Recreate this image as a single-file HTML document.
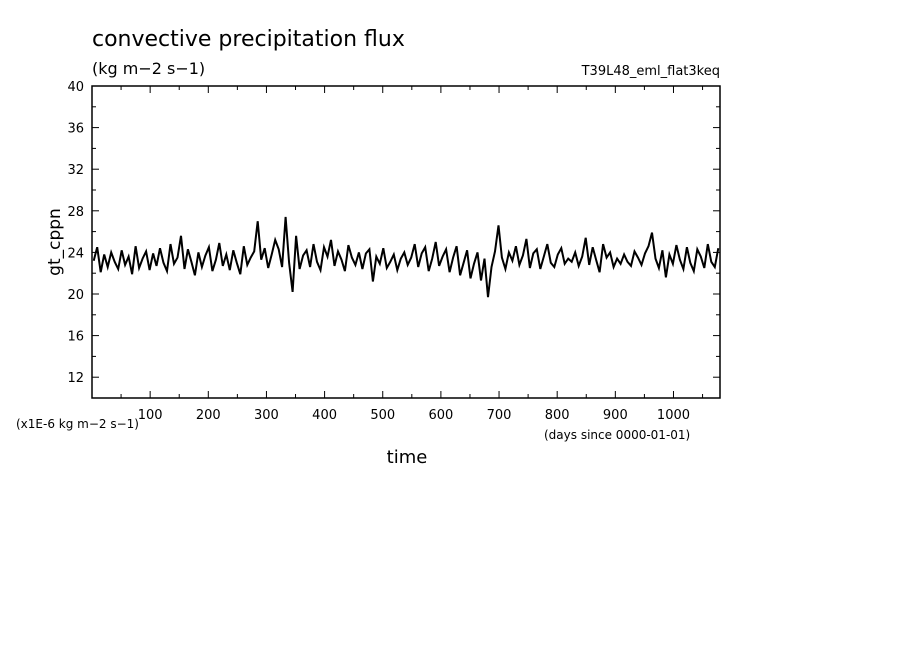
<!DOCTYPE html>
<html><head><meta charset="utf-8"><style>
body{margin:0;background:#fff}
svg text{font-family:"DejaVu Sans","Liberation Sans",sans-serif;fill:#000}
</style></head><body>
<svg id="c" width="904" height="654">
<text x="92" y="46" font-size="22">convective precipitation flux</text>
<text x="92" y="74" font-size="16">(kg m−2 s−1)</text>
<text x="720" y="75" font-size="13" text-anchor="end">T39L48_eml_flat3keq</text>
<text x="60" y="242" font-size="17" text-anchor="middle" transform="rotate(-90 60 242)">gt_cppn</text>
<text x="407" y="463" font-size="18" text-anchor="middle">time</text>
<text x="16" y="428" font-size="12">(x1E-6 kg m−2 s−1)</text>
<text x="544" y="439" font-size="12">(days since 0000-01-01)</text>
<g id="axes"></g>
<rect x="92" y="86" width="628" height="312" fill="none" stroke="#000" stroke-width="1.5"/>
</svg>
<script>
const yTicks=[12,16,20,24,28,32,36,40];
const xTicks=[100,200,300,400,500,600,700,800,900,1000];
const values=[23.2,24.5,22.1,23.8,22.6,24.0,23.1,22.4,24.2,22.8,
23.6,21.9,24.6,22.5,23.4,24.1,22.3,23.9,22.7,24.4,
23.0,22.2,24.8,22.9,23.5,25.6,22.4,24.3,23.1,21.8,
24.0,22.6,23.7,24.5,22.2,23.3,24.9,22.7,23.8,22.3,
24.2,23.0,21.9,24.6,22.8,23.5,24.1,27.0,23.3,24.4,
22.5,23.8,25.2,24.3,22.6,27.4,23.0,20.2,25.6,22.4,
23.7,24.2,22.6,24.8,23.1,22.3,24.5,23.6,25.2,22.7,
24.1,23.3,22.2,24.7,23.5,22.8,24.0,22.4,23.9,24.3,
21.2,23.6,22.9,24.4,22.5,23.1,23.8,22.3,23.4,24.0,
22.8,23.5,24.8,22.6,23.9,24.5,22.2,23.4,25.0,22.7,
23.6,24.3,22.1,23.5,24.6,21.8,23.0,24.2,21.5,22.9,
24.0,21.3,23.4,19.7,22.6,24.1,26.6,23.5,22.4,24.0,
23.2,24.6,22.8,23.7,25.3,22.5,23.9,24.3,22.4,23.6,
24.8,23.0,22.6,23.8,24.4,22.9,23.4,23.1,24.0,22.7,
23.6,25.4,22.8,24.5,23.3,22.1,24.8,23.5,24.0,22.6,
23.4,22.9,23.8,23.1,22.7,24.1,23.5,22.8,23.9,24.6,
25.9,23.4,22.5,24.2,21.6,23.8,22.9,24.7,23.3,22.4,
24.5,23.0,22.2,24.3,23.6,22.5,24.8,23.1,22.6,24.4];
const X0=92,X1=720,Y0=398,Y1=86;
const xs=d=>X0+d/1080*(X1-X0);
const ys=v=>Y0-(v-10)/30*(Y0-Y1);
const NS="http://www.w3.org/2000/svg";
const g=document.getElementById('axes');
function mk(t,a){const e=document.createElementNS(NS,t);for(const k in a)e.setAttribute(k,a[k]);g.appendChild(e);return e;}
for(let v=10;v<=40;v+=2){const y=ys(v),L=v%4===0?7:4;
const t1=mk('line',{x1:X0,x2:X0+L,y1:y,y2:y,stroke:'#000'});


const t2=mk('line',{x1:X1-L,x2:X1,y1:y,y2:y,stroke:'#000'});

}
yTicks.forEach(v=>{const t=mk('text',{x:84,y:ys(v)+5,'font-size':13,'text-anchor':'end'});t.textContent=v;

});
for(let d=50;d<1080;d+=50){const x=xs(d),L=d%100===0?7:4;
const t1=mk('line',{x1:x,x2:x,y1:Y0,y2:Y0-L,stroke:'#000'});


const t2=mk('line',{x1:x,x2:x,y1:Y1,y2:Y1+L,stroke:'#000'});

}
xTicks.forEach(d=>{const t=mk('text',{x:xs(d),y:419,'font-size':13,'text-anchor':'middle'});t.textContent=d;

});
let p='';const n=values.length;
values.forEach((v,i)=>{const d=(i+0.5)*1080/n;p+=(i?'L':'M')+xs(d).toFixed(1)+' '+ys(v).toFixed(1);});
const line=mk('path',{d:p,fill:'none',stroke:'#000','stroke-width':2});


</script>
</body></html>
